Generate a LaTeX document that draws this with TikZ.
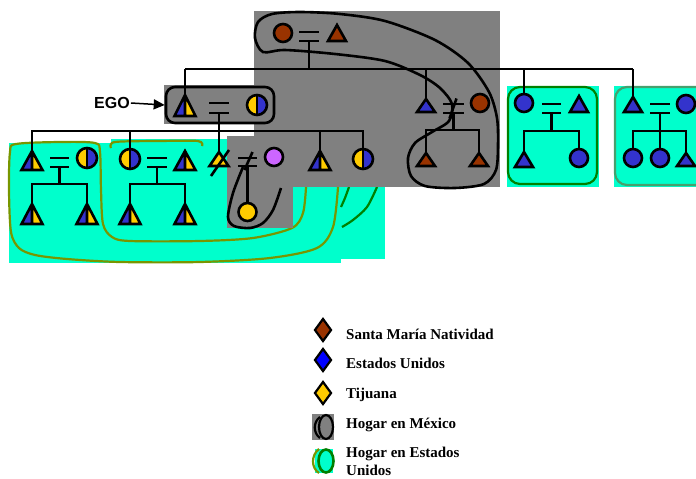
\documentclass[tikz,border=0pt]{standalone}
\usepackage{fontspec}
\setmainfont{Liberation Serif}
\newfontfamily\egofont{Liberation Sans}
\usetikzlibrary{shapes.geometric,arrows.meta}
\definecolor{aq}{RGB}{0,255,204}
\definecolor{gry}{RGB}{128,128,128}
\definecolor{brn}{RGB}{153,51,0}
\definecolor{blu}{RGB}{51,51,204}
\definecolor{yel}{RGB}{255,204,0}
\definecolor{pur}{RGB}{204,102,255}
\definecolor{olv}{RGB}{120,150,0}
\definecolor{dgr}{RGB}{0,128,0}
\definecolor{sgr}{RGB}{70,160,110}
\definecolor{lblu}{RGB}{0,0,255}
\tikzset{
  ln/.style={line width=2.6pt, black},
  sym/.style={line width=2.6pt, draw=black, line join=miter},
  tribox/.style={rectangle, draw=none, inner sep=0pt, outer sep=0pt},
  circ/.style={circle, draw=black, line width=2.6pt, inner sep=0pt, outer sep=0pt},
  eqbox/.style={rectangle, draw=none, inner sep=0pt, outer sep=0pt},
  legdia/.style={diamond, draw=black, line width=2.2pt, minimum width=17pt, minimum height=23pt, inner sep=0pt},
  lgt/.style={font=\fontsize{15}{18}\selectfont\bfseries, inner sep=0pt, anchor=base west},
}
% triangle: name, x, apex y, base y, width, colour
\newcommand\Tri[6]{\node[tribox,minimum width=#5,minimum height={#4-#3}] (#1) at (#2,{(#3+#4)/2}) {};
  \filldraw[sym,fill=#6] (#1.south west) -- (#1.north) -- (#1.south east) -- cycle;}
% half triangle (blue left, yellow right)
\newcommand\HTri[5]{\node[tribox,minimum width=#5,minimum height={#4-#3}] (#1) at (#2,{(#3+#4)/2}) {};
  \fill[blu] (#1.south west) -- (#1.north) -- (#1.south) -- cycle;
  \fill[yel] (#1.south) -- (#1.north) -- (#1.south east) -- cycle;
  \draw[sym] (#1.south west) -- (#1.north) -- (#1.south east) -- cycle (#1.north) -- (#1.south);}
\newcommand\Cir[5]{\node[circ,minimum size={2*#4},fill=#5] (#1) at (#2,#3) {};}
\newcommand\HCir[4]{\node[circ,minimum size={2*#4},path picture={
  \fill[yel] (path picture bounding box.south west) rectangle (path picture bounding box.north);
  \fill[blu] (path picture bounding box.south) rectangle (path picture bounding box.north east);
  \draw[line width=2.6pt] (path picture bounding box.south) -- (path picture bounding box.north);}] (#1) at (#2,#3) {};}
\newcommand\Eq[5]{\node[eqbox,minimum width={#3-#2},minimum height={#5-#4}] (#1) at ({(#2+#3)/2},{(#4+#5)/2}) {};
  \draw[ln] (#1.north west) -- (#1.north east) (#1.south west) -- (#1.south east);}
\begin{document}
\begin{tikzpicture}[x=1pt,y=-1pt]
\useasboundingbox (0,0) rectangle (696,479);
% ---------- backgrounds ----------
\fill[aq] (9,143) rectangle (341,263);
\fill[aq] (111,139) rectangle (385,259);
\draw[olv, line width=2.2pt] plot[smooth] coordinates {(306,187) (303,213) (292,228) (253,238) (200,241) (130,241) (112,237) (103,224) (101,190) (100,152) (95,143) (60,142) (16,144) (10,152) (9,190) (11,232) (19,248) (35,255) (67,259) (120,262) (200,262) (270,258) (317,248) (333,227) (338,187)};
\draw[olv, line width=2.2pt] plot[smooth] coordinates {(111,148) (115,142) (160,141) (198,141) (202,146)};
\draw[dgr, line width=2.2pt] plot[smooth] coordinates {(349,187) (345,198) (341,207)};
\draw[dgr, line width=2.2pt] plot[smooth] coordinates {(377,187) (367,207) (353,220) (342,227)};
\fill[gry] (254,11) rectangle (500,187);
\fill[gry] (227,136) rectangle (500,187);
\fill[gry] (227,136) rectangle (293,228);
\fill[gry] (164,85) rectangle (254,124);
\fill[aq] (507,86) rectangle (599,187);
\draw[dgr, line width=2.2pt, rounded corners=12pt] (508,87) rectangle (597,184);
\fill[aq] (614,86) rectangle (696,187);
\draw[sgr, line width=2.2pt, rounded corners=12pt] (615,87) rectangle (712,185);
% ---------- household outlines ----------
\draw[ln] plot[smooth cycle] coordinates {(263,52) (255,38) (258,22) (272,14) (300,12) (340,14) (385,21) (435,40) (468,63) (489,92) (497,118) (498,145) (496,170) (484,184) (455,188) (425,186) (411,176) (408,158) (415,143) (432,132) (449,121) (452,104) (440,88) (420,75) (385,61) (335,54) (285,50)};
\draw[ln] plot[smooth] coordinates {(243,167) (233,193) (228,217) (234,226) (250,228) (263,223) (273,210) (281,188)};
\node[draw, line width=2.6pt, rounded corners=9pt, minimum width=108pt, minimum height=36pt, inner sep=0pt] (egobox) at (220,105) {};
% ---------- symbols ----------
\Cir{c0}{283}{33}{9}{brn}
\Eq{eq0}{299}{319}{32}{41}
\Tri{t0}{337}{25}{41}{18}{brn}

\HTri{ego}{185}{95}{116}{21}
\Eq{egoeq}{209}{229}{103}{113}
\HCir{egow}{257}{105}{10}

\Tri{bt}{426}{99}{112}{18}{blu}
\Eq{beq}{443}{464}{104}{113}
\Cir{bw}{480}{103}{9}{brn}
\Tri{bk1}{426}{153}{166}{18}{brn}
\Tri{bk2}{479}{153}{166}{18}{brn}

\Cir{r1c}{524}{103}{9}{blu}
\Eq{r1eq}{542}{561}{104}{113}
\Tri{r1t}{579}{96}{112}{18}{blu}
\Tri{r1k1}{524}{152}{167}{18}{blu}
\Cir{r1k2}{579}{158}{9}{blu}

\Tri{r2t}{633}{97}{112}{18}{blu}
\Eq{r2eq}{650}{670}{104}{113}
\Cir{r2c}{686}{104}{9}{blu}
\Cir{r2k1}{633}{158}{9}{blu}
\Cir{r2k2}{660}{158}{9}{blu}
\Tri{r2k3}{686}{153}{166}{18}{blu}

\HTri{k1}{32}{151}{170}{21}
\Eq{k1eq}{50}{69}{158}{167}
\HCir{k1w}{87}{158}{10}
\HTri{k1a}{32}{204}{224}{21}
\HTri{k1b}{87}{204}{224}{21}

\HCir{k2}{130}{159}{10}
\Eq{k2eq}{147}{167}{158}{167}
\HTri{k2w}{185}{151}{170}{21}
\HTri{k2a}{130}{204}{224}{21}
\HTri{k2b}{185}{204}{224}{21}

\Tri{k3}{219}{152}{166}{19}{yel}
\Eq{k3eq}{238}{257}{158}{166}
\Cir{k3w}{274}{157}{9}{pur}
\Cir{k3k}{247.5}{212}{9}{yel}

\HTri{k4}{320}{151}{170}{21}
\HCir{k5}{363}{159}{10}
% ---------- connectors ----------
\coordinate (b0) at (0,69);
\coordinate (b1) at (0,131);
\coordinate (b2) at (0,130);
\coordinate (b3) at (0,184);
\draw[ln] (ego.north |- b0) -- (r2t.north |- b0);
\draw[ln] (eq0.south) -- (eq0.south |- b0);
\draw[ln] (ego.north |- b0) -- (ego.north);
\draw[ln] (bt.north |- b0) -- (bt.north);
\draw[ln] (r1c.north |- b0) -- (r1c.north);
\draw[ln] (r2t.north |- b0) -- (r2t.north);
\draw[ln] (egoeq.south) -- (k3.north);
\draw[ln] (k1.north) -- (k1.north |- b1) -- (k5.north |- b1) -- (k5.north);
\draw[ln] (k2.north |- b1) -- (k2.north);
\draw[ln] (k4.north |- b1) -- (k4.north);
\draw[ln] (k1eq.south) -- (k1eq.south |- b3);
\draw[ln] (k1a.north) -- (k1a.north |- b3) -- (k1b.north |- b3) -- (k1b.north);
\draw[ln] (k2eq.south) -- (k2eq.south |- b3);
\draw[ln] (k2a.north) -- (k2a.north |- b3) -- (k2b.north |- b3) -- (k2b.north);
\draw[ln] (k3eq.south) -- (k3k.north);
\draw[ln] (beq.south) -- (beq.south |- b2);
\draw[ln] (bk1.north) -- (bk1.north |- b2) -- (bk2.north |- b2) -- (bk2.north);
\draw[ln] (r1eq.south) -- (r1eq.south |- b1);
\draw[ln] (r1k1.north) -- (r1k1.north |- b1) -- (r1k2.north |- b1) -- (r1k2.north);
\draw[ln] (r2eq.south) -- (r2eq.south |- b1);
\draw[ln] (r2k1.north) -- (r2k1.north |- b1) -- (r2k3.north |- b1) -- (r2k3.north);
\draw[ln] (r2k2.north |- b1) -- (r2k2.north);
% slashes
\draw[ln] ([shift={(-8,17)}]k3.center) -- ([shift={(10,-9)}]k3.center);
\draw[ln] ([shift={(-3,8)}]k3eq.center) -- ([shift={(5,-10)}]k3eq.center);
\draw[ln] ([shift={(-4,10)}]beq.center) -- ([shift={(3,-10)}]beq.center);
% ---------- EGO ----------
\node[font={\egofont\fontsize{16}{16}\selectfont\bfseries}, inner sep=1pt] (egolbl) at (112,103) {EGO};
\draw[line width=1.5pt, -{Triangle[length=11pt,width=10pt]}] (egolbl.east) -- (egobox.west);
% ---------- legend ----------
\node[legdia, fill=brn] (d1) at (323,330) {};
\node[legdia, fill=lblu] (d2) at (323,360) {};
\node[legdia, fill=yel] (d3) at (323,393) {};
\fill[gry] (312,414) rectangle (334,440);
\draw[line width=2.2pt] (326,427) ellipse [x radius=7, y radius=12];
\draw[line width=2.2pt] (320,417) .. controls (313,422) and (313,433) .. (320,438);
\fill[aq] (315,449) rectangle (333,473);
\draw[olv, line width=2.2pt] (319,449) .. controls (311,455) and (311,468) .. (319,473);
\draw[dgr, line width=2.6pt] (326,461) ellipse [x radius=7.5, y radius=11.5];
\node[lgt] (l1) at (346,339) {Santa María Natividad};
\node[lgt] (l2) at (346,368) {Estados Unidos};
\node[lgt] (l3) at (346,398) {Tijuana};
\node[lgt] (l4) at (346,428) {Hogar en México};
\node[lgt] (l5) at (346,457) {Hogar en Estados};
\node[lgt] (l6) at (346,475) {Unidos};
\end{tikzpicture}
\end{document}
